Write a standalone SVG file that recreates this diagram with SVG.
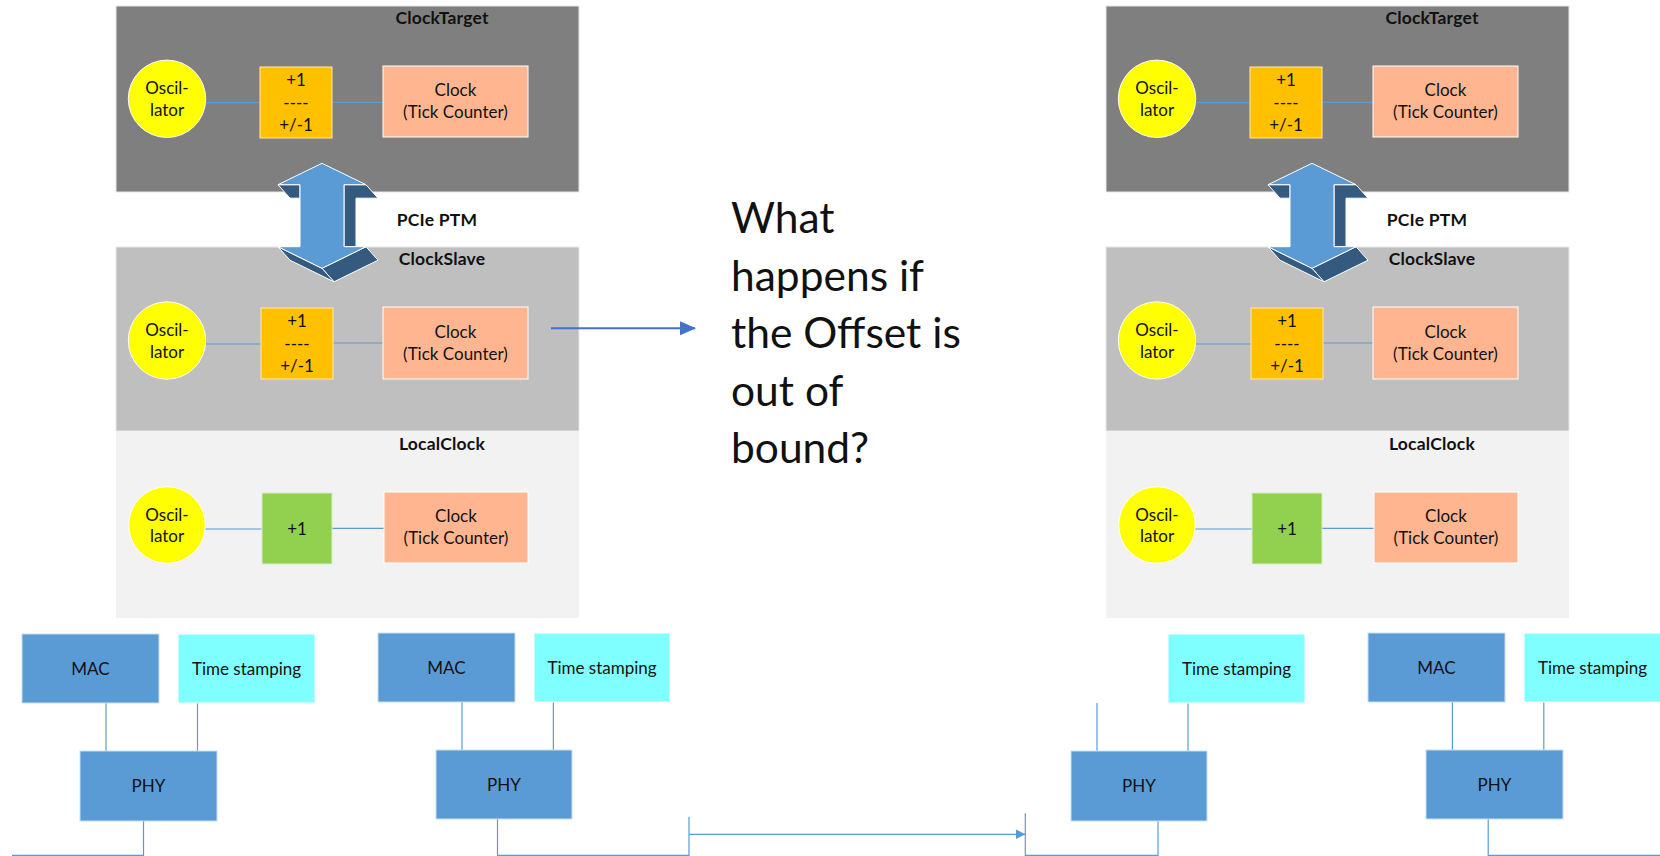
<svg xmlns="http://www.w3.org/2000/svg" width="1660" height="856" viewBox="0 0 1660 856">
<defs>
<style>
text{font-family:Lato,"Open Sans","Liberation Sans",sans-serif;fill:#111}
.t{font-size:17px;text-anchor:middle}
.lbl{font-size:17.5px;font-weight:bold;text-anchor:middle;letter-spacing:0.2px}
.big{font-size:42.5px}
.osc{fill:#ffff00;stroke:#ffffff;stroke-width:1}
.adj{fill:#ffc000;stroke:#ffe9a8;stroke-width:1}
.inc{fill:#92d050;stroke:#d6eec0;stroke-width:1}
.clk{fill:#ffb690;stroke:#ffffff;stroke-width:1}
.blue{fill:#5b9bd5;stroke:#c9ddf0;stroke-width:1}
.cyan{fill:#7fffff;stroke:#ffffff;stroke-width:1}
.ln{stroke:#5b9bd5;stroke-width:1.2;fill:none}
.ar{stroke:#4472c4;stroke-width:2;fill:none}
.front{fill:#5b9bd5;stroke:#ffffff;stroke-width:1}
.dark{fill:#345a80;stroke:#ffffff;stroke-width:1}
</style>
<marker id="ah2" markerWidth="16" markerHeight="14" refX="15" refY="7" orient="auto" markerUnits="userSpaceOnUse">
<path d="M0,0 L16,7 L0,14 Z" fill="#4472c4"/>
</marker>
<marker id="ah3" markerWidth="10" markerHeight="10" refX="9.5" refY="5" orient="auto" markerUnits="userSpaceOnUse">
<path d="M0,0 L10,5 L0,10 Z" fill="#5b9bd5"/>
</marker>
<g id="panel">
<rect x="116" y="6" width="463" height="186" fill="#7f7f7f" stroke="#e8e8e8" stroke-width="1"/>
<rect x="116" y="247" width="463" height="184" fill="#bfbfbf" stroke="#e8e8e8" stroke-width="1"/>
<rect x="116" y="431" width="463" height="187" fill="#f2f2f2"/>
<text class="lbl" x="442" y="24">ClockTarget</text>
<text class="lbl" x="437" y="226">PCIe PTM</text>
<text class="lbl" x="442" y="265">ClockSlave</text>
<text class="lbl" x="442" y="450">LocalClock</text>
<g class="ln">
<line x1="206" y1="102.7" x2="261" y2="102.7"/>
<line x1="327" y1="102.3" x2="383" y2="102.3"/>
<line x1="206" y1="344" x2="262" y2="344"/>
<line x1="327" y1="343" x2="383" y2="343"/>
<line x1="205" y1="529" x2="262" y2="529"/>
<line x1="327" y1="528.3" x2="384" y2="528.3"/>
</g>
<circle class="osc" cx="167" cy="98.8" r="38.7"/>
<text class="t" x="167" y="94.3">Oscil-</text><text class="t" x="167" y="115.7">lator</text>
<rect class="adj" x="260" y="67" width="72" height="71"/>
<text class="t" x="296" y="86">+1</text><text class="t" x="296" y="108.5">----</text><text class="t" x="296" y="131">+/-1</text>
<rect class="clk" x="383" y="66" width="145" height="71"/>
<text class="t" x="455.5" y="96">Clock</text><text class="t" x="455.5" y="118">(Tick Counter)</text>
<circle class="osc" cx="167" cy="340.5" r="38.7"/>
<text class="t" x="167" y="336">Oscil-</text><text class="t" x="167" y="357.5">lator</text>
<rect class="adj" x="261" y="308" width="72" height="71"/>
<text class="t" x="297" y="327">+1</text><text class="t" x="297" y="349.5">----</text><text class="t" x="297" y="372">+/-1</text>
<rect class="clk" x="383" y="307" width="145" height="72"/>
<text class="t" x="455.5" y="337.5">Clock</text><text class="t" x="455.5" y="360">(Tick Counter)</text>
<circle class="osc" cx="167" cy="525" r="38.3"/>
<text class="t" x="167" y="520.5">Oscil-</text><text class="t" x="167" y="542">lator</text>
<rect class="inc" x="262" y="493" width="70" height="71"/>
<text class="t" x="297" y="535">+1</text>
<rect class="clk" x="384" y="492" width="144" height="71"/>
<text class="t" x="456" y="522">Clock</text><text class="t" x="456" y="544">(Tick Counter)</text>
<polygon class="dark" points="278,184.7 300,184.7 300,198.2 290,198.2"/>
<polygon class="dark" points="344,184.7 366,184.7 378,198.2 356,198.2 356,246.7 344,246.7"/>
<polygon class="dark" points="366,246.7 378,260.2 334,281.8 322,268.3"/>
<polygon class="dark" points="278,246.7 322,268.3 334,281.8 290,260.2"/>
<polygon class="front" points="322,163.3 366,184.7 344,184.7 344,246.7 366,246.7 322,268.3 278,246.7 300,246.7 300,184.7 278,184.7"/>
</g>
</defs>
<g id="left-panel"><use href="#panel"/></g>
<g id="right-panel"><use href="#panel" transform="translate(990,0)"/></g>
<g id="question"><text class="big" x="731" y="233">What</text><text class="big" x="731" y="290.5">happens if</text><text class="big" x="731" y="348">the Offset is</text><text class="big" x="731" y="405.5">out of</text><text class="big" x="731" y="463">bound?</text></g>
<g id="connectors">
<line class="ar" x1="551" y1="328.3" x2="695" y2="328.3" marker-end="url(#ah2)"/>
<g class="ln">
<line x1="106" y1="703" x2="106" y2="751"/>
<line x1="197.5" y1="703" x2="197.5" y2="751"/>
<polyline points="143.5,821 143.5,855.3 12,855.3"/>
<line x1="462" y1="702" x2="462" y2="750"/>
<line x1="553.4" y1="702" x2="553.4" y2="750"/>
<polyline points="497.5,819 497.5,855.3 689,855.3 689,816.7"/>
<line x1="689" y1="834.3" x2="1025" y2="834.3" marker-end="url(#ah3)"/>
<polyline points="1025.3,813.3 1025.3,855.3 1158,855.3 1158,821"/>
<line x1="1097" y1="703" x2="1097" y2="751"/>
<line x1="1188" y1="703" x2="1188" y2="751"/>
<line x1="1452.4" y1="702" x2="1452.4" y2="750"/>
<line x1="1543.8" y1="702" x2="1543.8" y2="750"/>
<polyline points="1488.2,819 1488.2,855.3 1660,855.3"/>
</g>
</g>
<g id="mac1"><rect class="blue" x="22" y="634" width="137" height="69"/><text class="t" x="90.5" y="675">MAC</text></g>
<g id="ts1"><rect class="cyan" x="178" y="634" width="137" height="69"/><text class="t" x="246.5" y="675">Time stamping</text></g>
<g id="phy1"><rect class="blue" x="80" y="751" width="137" height="70"/><text class="t" x="148.5" y="792">PHY</text></g>
<g id="mac2"><rect class="blue" x="378" y="633" width="137" height="69"/><text class="t" x="446.5" y="674">MAC</text></g>
<g id="ts2"><rect class="cyan" x="534" y="633" width="136" height="69"/><text class="t" x="602" y="674">Time stamping</text></g>
<g id="phy2"><rect class="blue" x="436" y="750" width="136" height="69"/><text class="t" x="504" y="791">PHY</text></g>
<g id="ts3"><rect class="cyan" x="1168" y="634" width="137" height="69"/><text class="t" x="1236.5" y="675">Time stamping</text></g>
<g id="phy3"><rect class="blue" x="1071" y="751" width="136" height="70"/><text class="t" x="1139" y="792">PHY</text></g>
<g id="mac4"><rect class="blue" x="1368" y="633" width="137" height="69"/><text class="t" x="1436.5" y="674">MAC</text></g>
<g id="ts4"><rect class="cyan" x="1524" y="633" width="137" height="69"/><text class="t" x="1592.5" y="674">Time stamping</text></g>
<g id="phy4"><rect class="blue" x="1426" y="750" width="137" height="69"/><text class="t" x="1494.5" y="791">PHY</text></g>
</svg>
